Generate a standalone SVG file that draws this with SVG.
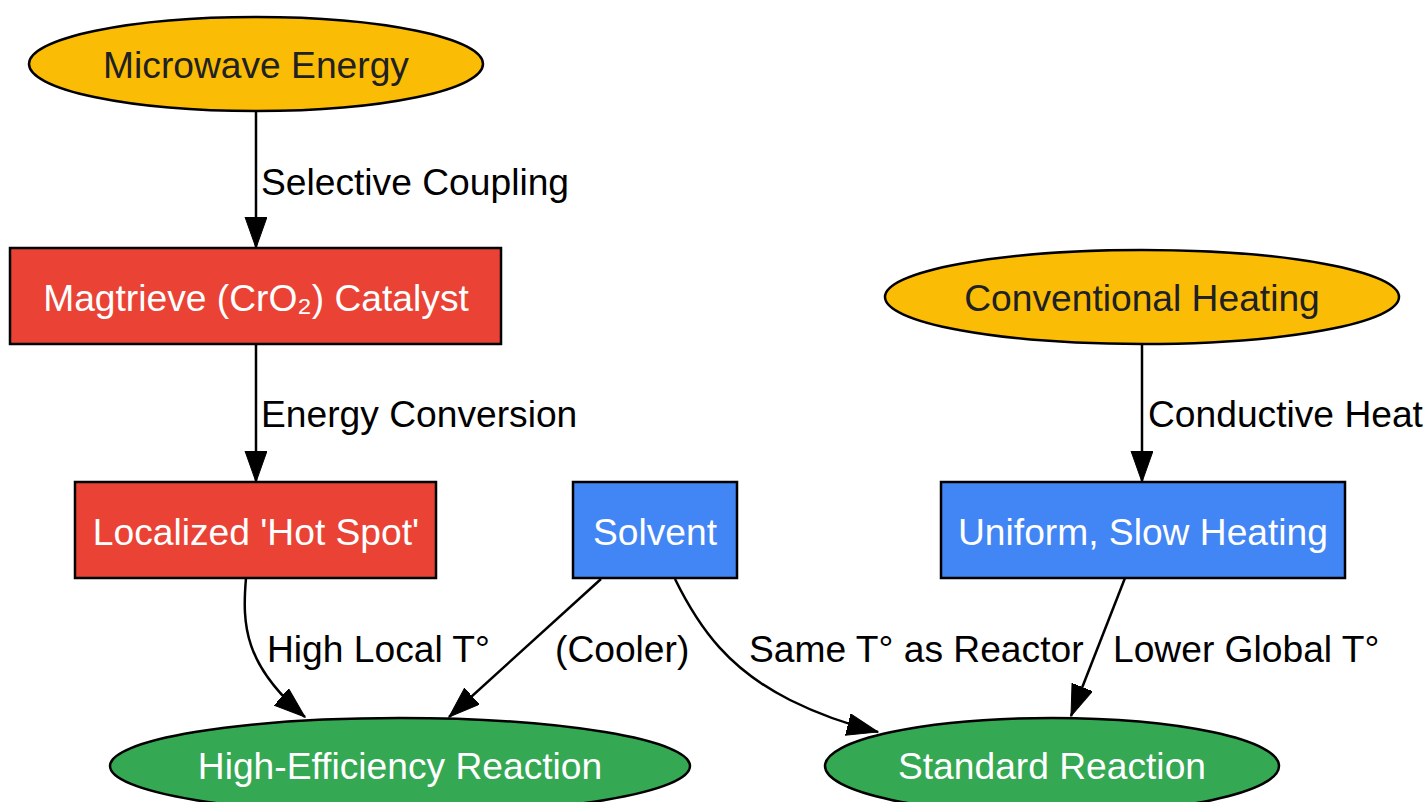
<svg xmlns="http://www.w3.org/2000/svg" width="1428" height="802" viewBox="0 0 1428 802">
<defs>
<marker id="arr" markerUnits="userSpaceOnUse" markerWidth="32" markerHeight="24" refX="31" refY="11" orient="auto">
<path d="M0,0 L31,11 L0,22 Z" fill="#000" stroke="#000" stroke-width="1"/>
</marker>
</defs>
<style>
text{font-family:"Liberation Sans",Arial,sans-serif;font-size:37.2px}
.n text{text-anchor:middle}
.y{fill:#FBBC05;stroke:#000;stroke-width:2.5}
.r{fill:#EA4335;stroke:#000;stroke-width:2.5}
.b{fill:#4285F4;stroke:#000;stroke-width:2.5}
.g{fill:#34A853;stroke:#000;stroke-width:2.5}
.dk{fill:#202124}
.wt{fill:#fff}
.e path{fill:none;stroke:#000;stroke-width:2.5;marker-end:url(#arr)}
.e text{fill:#000}
</style>
<rect width="1428" height="802" fill="#fff"/>
<g class="e" id="connectors">
<path d="M256,111 L256,248"/>
<text x="261" y="195">Selective Coupling</text>
<path d="M256,345 L256,482"/>
<text x="261" y="427">Energy Conversion</text>
<path d="M1142,345 L1142,482"/>
<text x="1148" y="427">Conductive Heat</text>
<path d="M246,578 C242,625 244,665 305,717"/>
<text x="267" y="662">High Local T°</text>
<path d="M601,579 L449,717"/>
<text x="555" y="662">(Cooler)</text>
<path d="M675,579 C700,630 730,670 790,700 C820,715 850,725 878,732"/>
<text x="749" y="662">Same T° as Reactor</text>
<path d="M1125,578 L1071,716"/>
<text x="1113" y="662">Lower Global T°</text>
</g>
<g class="n" id="microwave">
<ellipse class="y" cx="256" cy="64" rx="227" ry="47"/>
<text class="dk" x="256" y="78">Microwave Energy</text>
</g>
<g class="n" id="magtrieve">
<rect class="r" x="10" y="248" width="491" height="96"/>
<text class="wt" x="256" y="311">Magtrieve (CrO₂) Catalyst</text>
</g>
<g class="n" id="hotspot">
<rect class="r" x="75" y="482" width="361" height="96"/>
<text class="wt" x="256" y="545">Localized 'Hot Spot'</text>
</g>
<g class="n" id="solvent">
<rect class="b" x="573" y="482" width="164" height="96"/>
<text class="wt" x="655" y="545">Solvent</text>
</g>
<g class="n" id="conventional">
<ellipse class="y" cx="1142" cy="297" rx="257" ry="47"/>
<text class="dk" x="1142" y="311">Conventional Heating</text>
</g>
<g class="n" id="uniform">
<rect class="b" x="941" y="482" width="404" height="96"/>
<text class="wt" x="1143" y="545">Uniform, Slow Heating</text>
</g>
<g class="n" id="higheff">
<ellipse class="g" cx="400" cy="766" rx="290" ry="48"/>
<text class="wt" x="400" y="779">High-Efficiency Reaction</text>
</g>
<g class="n" id="standard">
<ellipse class="g" cx="1052" cy="766" rx="227" ry="48"/>
<text class="wt" x="1052" y="779">Standard Reaction</text>
</g>
</svg>
